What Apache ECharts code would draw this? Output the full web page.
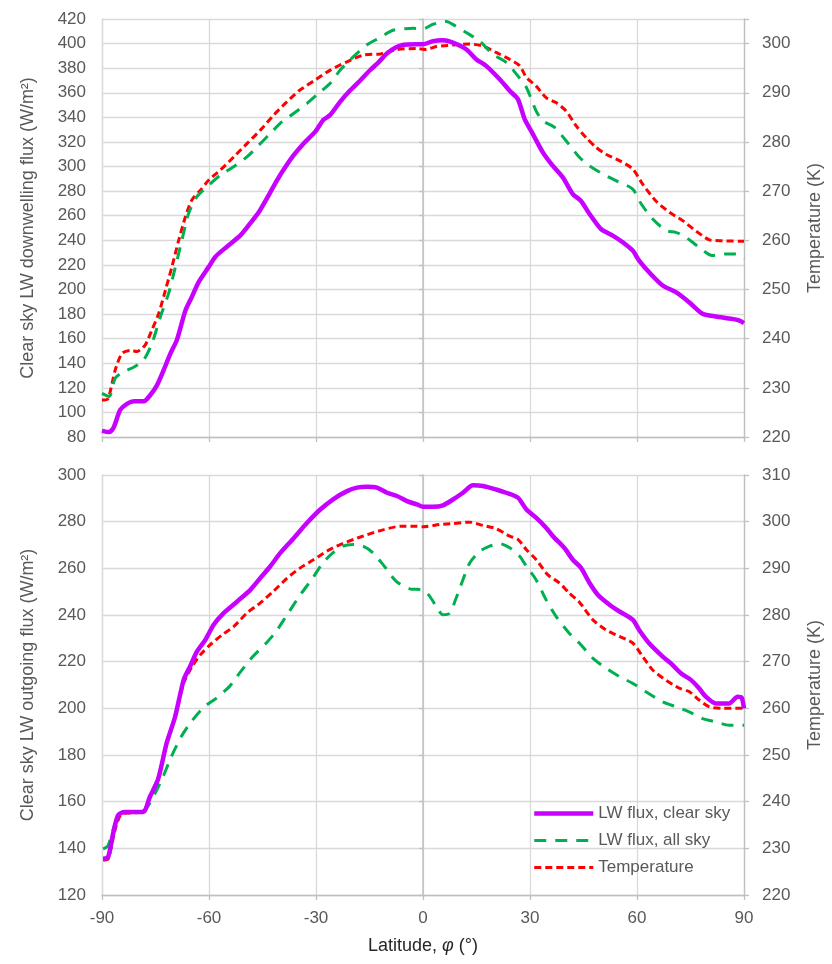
<!DOCTYPE html>
<html>
<head>
<meta charset="utf-8">
<script src="https://cdn.jsdelivr.net/npm/echarts@6/dist/echarts.min.js"></script>
<style>
html,body{margin:0;padding:0;background:#fff;}
#chart{width:832px;height:964px;}
</style>
</head>
<body>
<div id="chart"></div>
<script>
// ---- Data ----
var xTicks = [-90, -60, -30, 0, 30, 60, 90];

// Top panel: clear sky LW downwelling flux (W/m2)
var topClearLat = [-90,-88,-86.7,-84.9,-83,-81,-78.3,-76.5,-74.6,-72.7,-70.8,-69,-66.6,-64.8,-62.9,-60,-58.2,-54.9,-51.2,-48.4,-46,-43.2,-40.9,-38.5,-36.2,-33.4,-30.2,-27.9,-26,-23.2,-20.4,-17.6,-14.8,-12.4,-10.1,-7.8,-5.4,-2,0,2.8,5.6,8.4,12.1,14.9,17.7,21.5,24.3,26.6,28.5,30.8,33.6,36,39.2,42,44.3,46.7,49.9,53.2,56,58.8,60.6,63.4,67.2,70.9,74.6,78.4,82.1,86.7,88.6,90];
var topClear    = [85,84,88,102,107,109,109,114,122,134.5,148,159,183,194,206,218.6,226.7,235,244,254,263,277,289,300,309.4,319,328.4,338,342,352.8,362,370,378.5,385,392,396.7,399,399.5,399.5,402,402.7,400.8,395.4,387.3,381.9,371,361.6,354.8,338.5,326.4,311.5,302,291.2,277.6,272,261.4,249.2,243.8,238.4,231.6,223.5,214,203.2,197.8,189.7,180.2,178,176.1,174.8,172.6];

var topAllLat = [-90,-88,-86.3,-84,-81,-78.3,-76,-73.6,-71.3,-69.4,-67.6,-65.7,-63.4,-60,-56.8,-53,-49.3,-46,-42.8,-39.5,-36.2,-32.5,-29.3,-26,-23.2,-19.5,-15.7,-12.4,-8.2,-2.6,0,2.8,6.5,9.3,12.1,15.9,19.6,23.4,26.6,29,31.7,33.6,36.9,40.1,43.9,46.7,50.4,54.1,58.8,61.2,64.4,68.2,70.9,73.7,77.4,81.1,84.9,87.7,90];
var topAll    = [115.5,113,127.8,133,137,142.7,156,178,197,218.6,240,262,275.5,285,293,300,308,317.5,327,336.5,343.3,351.4,359.5,367.7,378.5,389.4,399,404.3,411,412.4,412,415.7,418,414,409,402,391.3,384.6,373.7,364.3,345.3,337.2,331.8,321,307.4,300.6,294,288.5,281.7,269.5,257.3,247.9,246.5,242.5,234.3,227.6,228.9,228.9,224.9];

// Top panel temperature (K)
var topTempLat = [-90,-88.4,-86.3,-84.4,-82,-80.2,-77.9,-76,-74.1,-72.2,-70.4,-68.5,-66.6,-64.8,-62.4,-60,-56.8,-53,-49.3,-45.6,-41.8,-38.1,-34.4,-30.2,-26,-21.3,-16.6,-11.9,-7.3,-1.9,0.9,3.7,8.4,13.1,16.8,20.5,24.3,27.1,29,31.7,34.5,37.3,40.1,42.9,45.7,48.5,51.3,55.1,58.8,61.6,65.3,69.1,72.8,76.5,80.3,84,90];
var topTemp    = [227.5,227.7,233.6,237,237.6,237.4,238.7,241.8,245.1,249.9,254.6,260,264.8,268.2,270.2,272.3,274.3,277,279.7,282.4,285.5,288.2,290.6,292.6,294.6,296.3,297.7,297.9,298.8,299,298.8,299.4,299.7,299.9,299.5,298.2,296.8,295.5,293.1,291.4,289,288,286.3,283.3,280.9,278.9,277.5,276.2,274.5,271.4,268,265.7,264,261.9,260.1,259.9,259.8];

// Bottom panel: clear sky LW outgoing flux (W/m2)
var botClearLat = [-89.7,-88.3,-86.9,-85.5,-83.6,-78.5,-76.6,-74.2,-71.9,-69.5,-67.1,-65.3,-63.4,-61,-58.7,-55.9,-52.1,-48.4,-45.6,-42.8,-40,-36.2,-32.5,-28.8,-25,-21.3,-18.5,-15.7,-12.9,-10.1,-7.3,-4.5,-1.7,0,2.8,5.6,8.4,11.2,14,16.8,20.5,23.3,26.6,29,31.7,34.5,36.4,39.6,42,44.3,46.7,49,52.3,55.1,58.8,60.6,63.4,67.2,69.5,72.3,75.1,77.4,79.3,82.1,85.8,88.2,89.3,90];
var botClear    = [135.5,136.2,146.2,154.1,155.6,155.6,162,170,185,196.4,212.2,218,224.3,229.4,235.8,240.8,245.8,250.8,255.9,260.9,266.6,273,279.5,285.2,289.8,293.1,294.6,295,294.6,292.4,291,288.8,287.4,286.4,286.4,287,289.5,292.4,295.6,295.3,293.8,292.4,290.3,285.2,281.7,277.4,273.8,268.8,263.7,260.2,253.7,248.7,244.4,241.5,238,233.6,227.9,222.2,219.3,215,212.2,208.6,205,202.1,202.1,205,204.7,200];

var botAllLat = [-89.7,-88.3,-86,-84.1,-79.4,-77.6,-75.2,-72.9,-70.6,-67.8,-65,-61.3,-58,-54.3,-51.5,-47.7,-44,-41.2,-38.4,-34.7,-30.9,-28.1,-25.3,-22.5,-19.6,-16.8,-14,-11.2,-7.5,-3.7,0,1.9,3.7,5.6,7.5,9.3,11.2,13.1,15.9,18.7,21.5,24.3,27.1,29,31.7,34.5,37.3,41,43.9,47.6,51.3,55.1,58.8,62.5,67.2,70.9,74.6,78.4,82.1,85.8,90];
var botAll    = [139.8,141.2,152,155.6,155.6,157,163.4,170.6,179.2,187.8,194.2,200.7,204.3,209.3,215,222.2,227.9,232.9,239.4,248,255.9,262.3,266.6,269.5,270.2,269.5,266.6,261.6,254.4,251.2,250.8,248,243.7,240.1,240.8,247.3,255.1,262.3,267.3,269.5,270.6,268.8,265.2,260.9,255.1,246.5,239.4,232.2,227.9,221.5,217.2,213.6,210.7,207.1,202.8,200.7,198.5,195.6,194.2,192.8,192.8];

// Bottom panel temperature (K)
var botTempLat = [-89.7,-88.3,-86.4,-84.5,-81.3,-78.5,-76.6,-74.2,-71.9,-69.5,-67.1,-64.8,-62.5,-59.7,-56.4,-53.1,-49.4,-45.6,-41.9,-38.1,-34.4,-30.6,-26.9,-23.2,-19.4,-15.7,-11,-6.4,-1.7,0,4.7,8.4,13.1,16.8,20.5,24.3,26.6,29,31.7,35,38.2,41,43.9,47.6,51.3,55.1,58.8,61.6,64.4,68.2,71.9,74.6,77.4,80.3,84,90];
var botTemp    = [227.5,227.7,233.8,237.4,237.6,237.8,241,245.3,252.5,258.2,265.4,268.9,271.4,273.6,275.7,277.5,280.4,282.6,285.1,287.9,290.1,291.9,293.7,295.1,296.2,297.2,298.3,299,299,298.9,299.4,299.6,299.9,299.2,298.5,296.9,296.2,294,291.9,288.6,286.9,284.7,282.7,279,276.8,275.4,274,271.1,268.2,266,264.3,263.6,261.8,260.3,260,260];

var names = ['LW flux, clear sky', 'LW flux, all sky', 'Temperature'];
var colors = ['#C800FF', '#00B050', '#FF0000'];

function pairs(xs, ys) { return xs.map(function (x, i) { return [x, ys[i]]; }); }

var FONT = 'Liberation Sans';
var GRAY = '#595959';
var GRID_C = '#D9D9D9';
var AXIS_C = '#BFBFBF';

function xAx(gi, showLabel) {
  var a = {
    type: 'value', gridIndex: gi, min: -90, max: 90, interval: 30,
    axisLine: { show: true, onZero: false, lineStyle: { color: AXIS_C, width: 1.3 } },
    axisTick: { show: true, length: 5, lineStyle: { color: AXIS_C, width: 1.3 } },
    splitLine: { show: true, lineStyle: { color: GRID_C, width: 1.3 } },
    axisLabel: { show: showLabel, fontFamily: FONT, fontSize: 17, color: GRAY, margin: 15,
      formatter: function (v) { return xTicks.indexOf(v) >= 0 ? String(v) : ''; } }
  };
  if (showLabel) {
    a.name = 'Latitude, {i|φ} (°)';
    a.nameLocation = 'middle';
    a.nameGap = 42;
    a.nameTextStyle = { fontFamily: FONT, fontSize: 18, color: '#262626',
      rich: { i: { fontFamily: FONT, fontSize: 18, fontStyle: 'italic', color: '#262626' } } };
  }
  return a;
}

function yLeft(gi, min, max, name) {
  return {
    type: 'value', gridIndex: gi, min: min, max: max, interval: 20, position: 'left',
    name: name, nameLocation: 'middle', nameGap: 65,
    nameTextStyle: { fontFamily: FONT, fontSize: 18, color: GRAY },
    axisLine: { show: true, onZero: false, lineStyle: { color: GRID_C, width: 1.3 } },
    axisTick: { show: false },
    splitLine: { show: true, lineStyle: { color: GRID_C, width: 1.3 } },
    axisLabel: { fontFamily: FONT, fontSize: 17, color: GRAY, margin: 16 }
  };
}
function yRight(gi, min, max) {
  return {
    type: 'value', gridIndex: gi, min: min, max: max, interval: 10, position: 'right',
    name: 'Temperature (K)', nameLocation: 'middle', nameGap: 62,
    nameTextStyle: { fontFamily: FONT, fontSize: 18, color: GRAY },
    axisLine: { show: true, onZero: false, lineStyle: { color: AXIS_C, width: 1.3 } },
    axisTick: { show: true, length: 5, lineStyle: { color: AXIS_C, width: 1.3 } },
    splitLine: { show: false },
    axisLabel: { fontFamily: FONT, fontSize: 17, color: GRAY, margin: 18,
      formatter: function (v) { return v % 10 === 0 ? String(v) : ''; } }
  };
}
function yZero(gi, min, max) {
  return {
    type: 'value', gridIndex: gi, min: min, max: max, interval: 20, position: 'left',
    axisLine: { show: true, onZero: true, lineStyle: { color: AXIS_C, width: 1.5 } },
    axisTick: { show: true, length: 4, lineStyle: { color: AXIS_C, width: 1.3 } },
    splitLine: { show: false },
    axisLabel: { show: false }
  };
}

function ser(nameIdx, xi, yi, data) {
  var ls;
  if (nameIdx === 0) ls = { color: colors[0], width: 4.5, type: 'solid' };
  else if (nameIdx === 1) ls = { color: colors[1], width: 3, type: [12, 9] };
  else ls = { color: colors[2], width: 3, type: [7, 4] };
  return {
    name: names[nameIdx], type: 'line', xAxisIndex: xi, yAxisIndex: yi,
    data: data, showSymbol: false, symbol: 'none', smooth: 0.25,
    lineStyle: ls, itemStyle: { color: colors[nameIdx] }, z: 10 - nameIdx, silent: true
  };
}

var chart = echarts.init(document.getElementById('chart'), null, { renderer: 'canvas' });
chart.setOption({
  animation: false,
  backgroundColor: '#ffffff',
  grid: [
    { left: 102, top: 19, width: 643, height: 418 },
    { left: 102, top: 475, width: 643, height: 420 }
  ],
  legend: {
    data: names, orient: 'vertical', left: 532, top: 805, padding: 0,
    itemWidth: 59, itemHeight: 16, itemGap: 10,
    itemStyle: { opacity: 0 },
    lineStyle: { width: 'inherit' },
    textStyle: { fontFamily: FONT, fontSize: 17, color: GRAY }
  },
  xAxis: [xAx(0, false), xAx(1, true)],
  yAxis: [
    yLeft(0, 80, 420, 'Clear sky LW downwelling flux (W/m²)'),
    yRight(0, 220, 305),
    yZero(0, 80, 420),
    yLeft(1, 120, 300, 'Clear sky LW outgoing flux (W/m²)'),
    yRight(1, 220, 310),
    yZero(1, 120, 300)
  ],
  series: [
    ser(0, 0, 0, pairs(topClearLat, topClear)),
    ser(1, 0, 0, pairs(topAllLat, topAll)),
    ser(2, 0, 1, pairs(topTempLat, topTemp)),
    ser(0, 1, 3, pairs(botClearLat, botClear)),
    ser(1, 1, 3, pairs(botAllLat, botAll)),
    ser(2, 1, 4, pairs(botTempLat, botTemp))
  ]
});
</script>
</body>
</html>
